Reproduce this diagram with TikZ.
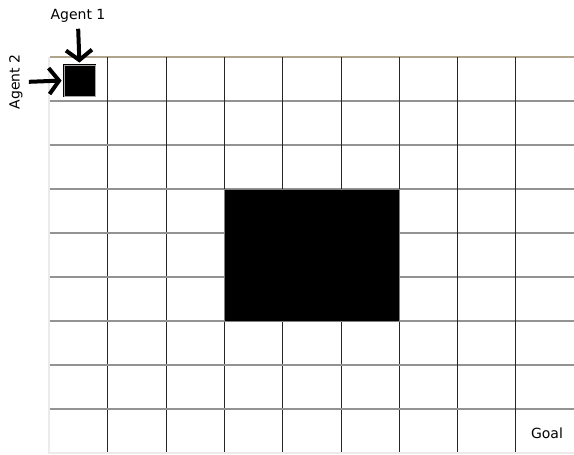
\documentclass[tikz,border=0pt]{standalone}
\usepackage{fontspec}
\setmainfont{DejaVu Sans}
\usetikzlibrary{arrows.meta}
\definecolor{framebar}{HTML}{B0A48C}
\begin{document}
\begin{tikzpicture}[x=1pt, y=-1pt,
    rowline/.style={gray!85, line width=1.3pt},
    colline/.style={black!85, line width=0.9pt},
    txt/.style={font=\fontsize{14}{16}\selectfont, inner sep=1pt},
    pointer/.style={-{Straight Barb[length=10pt,width=26pt]}, line width=4pt}]
    \useasboundingbox (0,0) rectangle (574,455);
    % Window frame
    \draw[black!8, line width=2pt] (48.5,57) -- (48.5,453) -- (574,453);
    \draw[framebar, line width=1.3pt] (49.5,57) -- (574,57);

    % Grid of 9 x 9 cells
    \foreach \i in {1,...,8} {
        \draw[rowline] (49.5,57+44*\i) -- (574,57+44*\i);
        \draw[colline] (49.5+58.3*\i,57) -- (49.5+58.3*\i,452);
    }

    % Obstacle
    \draw[gray, line width=1pt, fill=black] (224.4,189) rectangle (399.1,321);

    % Agent start cell
    \node[draw=black, double=gray!70, double distance=0.8pt, line width=0.8pt,
          fill=black, minimum size=31pt, inner sep=0pt] (agent) at (79.5,80.5) {};
    \node[txt] (agent1) at (78,16) {Agent 1};
    \node[txt, rotate=90] (agent2) at (16,82) {Agent 2};
    \draw[pointer, shorten <=5pt, shorten >=2pt] (agent2.south) -- (agent.west);
    \draw[pointer, shorten <=5pt, shorten >=2pt] (agent1.south) -- (agent.north);

    % Goal cell
    \node[txt] (goal) at (547,433) {Goal};
\end{tikzpicture}
\end{document}
